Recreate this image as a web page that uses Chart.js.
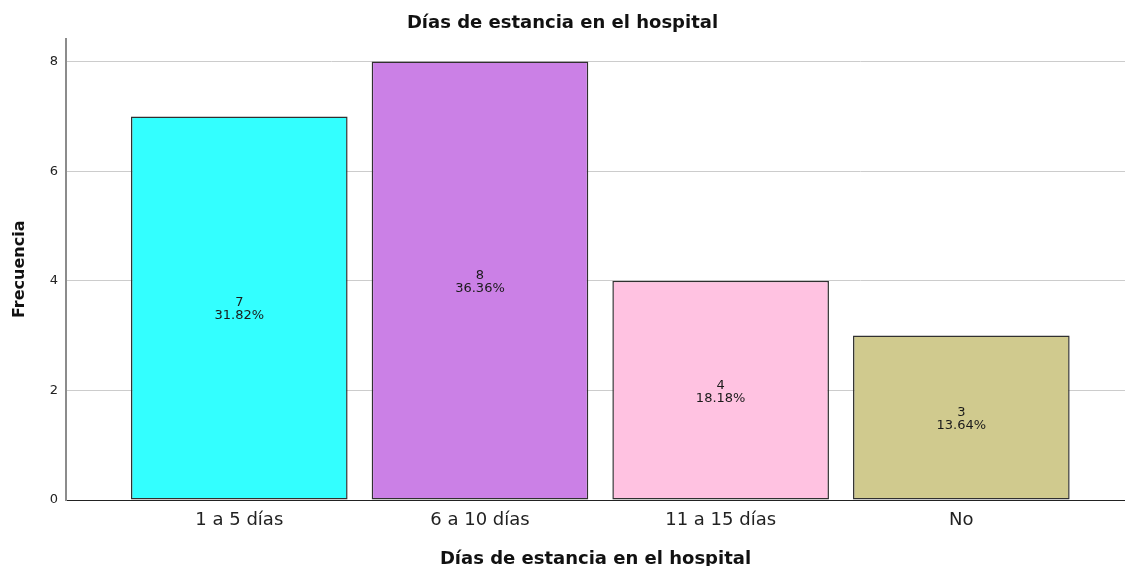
<!DOCTYPE html>
<html>
<head>
<meta charset="utf-8">
<script src="https://cdn.jsdelivr.net/npm/chart.js@4/dist/chart.umd.min.js"></script>
<style>
  html, body { margin: 0; padding: 0; background: #ffffff; }
  #wrap { width: 1125px; height: 566px; }
</style>
</head>
<body>
<div id="wrap"><canvas id="c" width="1125" height="566"></canvas></div>
<script>
const categories = ["1 a 5 días", "6 a 10 días", "11 a 15 días", "No"];
const frequencies = [7, 8, 4, 3];
const percentLabels = ["31.82%", "36.36%", "18.18%", "13.64%"];
const barColors = ["#33FFFF", "#CB80E6", "#FFC2E1", "#D0CA8E"];
const yTicks = [0, 2, 4, 6, 8];

const chartTitle = "Días de estancia en el hospital";
const xTitle = "Días de estancia en el hospital";
const yTitle = "Frecuencia";

const points = frequencies.map((v, i) => ({ x: i, y: v }));

const barLabelPlugin = {
  id: 'barLabels',
  afterDatasetsDraw(chart) {
    const ctx = chart.ctx;
    const meta = chart.getDatasetMeta(0);
    ctx.save();
    ctx.font = '13px "DejaVu Sans"';
    ctx.fillStyle = '#1a1a1a';
    ctx.textAlign = 'center';
    ctx.textBaseline = 'middle';
    meta.data.forEach((bar, i) => {
      const mid = (bar.y + bar.base) / 2;
      ctx.fillText(String(frequencies[i]), bar.x, mid - 5);
      ctx.fillText(percentLabels[i], bar.x, mid + 8);
    });
    ctx.restore();
  }
};

new Chart(document.getElementById('c'), {
  type: 'bar',
  data: {
    datasets: [{
      data: points,
      backgroundColor: barColors,
      borderColor: '#303030',
      borderWidth: 1.5,
      borderSkipped: false,
      barPercentage: 0.9,
      categoryPercentage: 1.0
    }]
  },
  options: {
    responsive: false,
    animation: false,
    layout: { padding: 0 },
    plugins: {
      legend: { display: false },
      tooltip: { enabled: false },
      title: {
        display: true,
        text: chartTitle,
        color: '#111',
        font: { family: '"DejaVu Sans"', size: 18, weight: 'bold', lineHeight: 1.2 },
        padding: { top: 13, bottom: 4 }
      }
    },
    scales: {
      x: {
        type: 'linear',
        offset: false,
        min: -0.72,
        max: 3.68,
        afterFit(scale) { scale.height = 66; },
        ticks: {
          stepSize: 1,
          includeBounds: false,
          autoSkip: false,
          maxRotation: 0,
          padding: 10,
          color: '#222',
          font: { family: '"DejaVu Sans"', size: 18 },
          callback: (v) => (Number.isInteger(v) && categories[v] !== undefined) ? categories[v] : ''
        },
        grid: { display: false, drawTicks: false },
        border: { display: true, color: '#222', width: 1 },
        title: {
          display: true,
          text: xTitle,
          color: '#111',
          font: { family: '"DejaVu Sans"', size: 18, weight: 'bold', lineHeight: 1.0 },
          padding: { top: 0, bottom: -2 }
        }
      },
      y: {
        min: 0,
        max: 8.42,
        afterFit(scale) { scale.width = 66; },
        afterBuildTicks(scale) { scale.ticks = yTicks.map(v => ({ value: v })); },
        ticks: {
          stepSize: 2,
          includeBounds: false,
          padding: 8,
          color: '#222',
          font: { family: '"DejaVu Sans"', size: 13 }
        },
        grid: { color: '#cccccc', lineWidth: 1, drawTicks: false },
        border: { display: true, color: '#8c8c8c', width: 2 },
        title: {
          display: true,
          text: yTitle,
          color: '#111',
          font: { family: '"DejaVu Sans"', size: 16, weight: 'bold', lineHeight: 1.2 },
          padding: { top: 10, bottom: 0 }
        }
      }
    }
  },
  plugins: [barLabelPlugin]
});
</script>
</body>
</html>
